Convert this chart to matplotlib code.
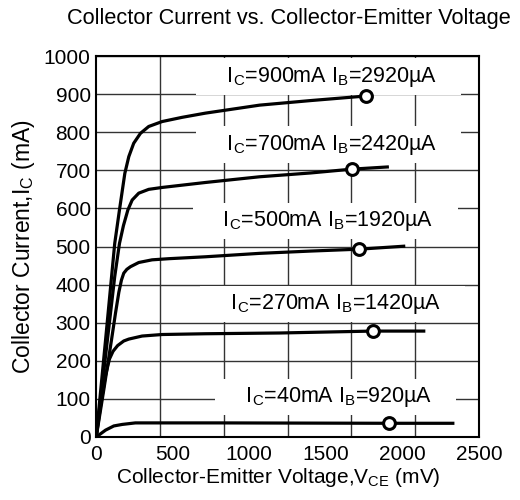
import numpy as np
import matplotlib
matplotlib.use('Agg')
import matplotlib.pyplot as plt

plt.rcParams['font.family'] = ['Liberation Sans', 'DejaVu Sans']
plt.rcParams['mathtext.fontset'] = 'custom'
plt.rcParams['mathtext.rm'] = 'Liberation Sans'

# Curves (V_CE in mV, I_C in mA)
vce900 = [0, 60, 121, 152, 187, 213, 245, 289, 343, 431, 561, 713, 1067, 1400, 1762]
ic900 = [0, 250, 508, 596, 692, 736, 771, 797, 815, 828, 839, 850, 871, 883, 895]

vce700 = [0, 121, 152, 178, 207, 235, 278, 343, 431, 713, 1067, 1400, 1669, 1912]
ic700 = [0, 421, 508, 555, 596, 622, 640, 650, 655, 668, 683, 693, 703, 709]

vce500 = [0, 50, 100, 126, 148, 165, 180, 200, 224, 278, 365, 474, 713, 1067, 1400, 1718, 2019]
ic500 = [0, 125, 255, 325, 380, 412, 430, 440, 447, 458, 465, 468, 473, 482, 488, 493, 501]

vce270 = [0, 30, 60, 87, 110, 140, 180, 213, 300, 431, 713, 1200, 1806, 2150]
ic270 = [0, 85, 160, 205, 225, 240, 252, 257, 265, 269, 271, 273, 278, 278]

vce40 = [0, 17, 61, 115, 170, 256, 800, 1915, 2340]
ic40 = [0, 5, 18, 29, 33, 37, 37, 36, 36]

# Circle markers on each curve
mark_v = [1762, 1669, 1718, 1806, 1915]
mark_i = [895, 703, 493, 278, 36]

# Curve labels
lab_text = ['I$_\\mathrm{C}$=900mA I$_\\mathrm{B}$=2920\u00b5A',
            'I$_\\mathrm{C}$=700mA I$_\\mathrm{B}$=2420\u00b5A',
            'I$_\\mathrm{C}$=500mA I$_\\mathrm{B}$=1920\u00b5A',
            'I$_\\mathrm{C}$=270mA I$_\\mathrm{B}$=1420\u00b5A',
            'I$_\\mathrm{C}$=40mA I$_\\mathrm{B}$=920\u00b5A']
lab_v = [1520, 1520, 1495, 1545, 1565]
lab_i = [945, 767, 567, 349, 105]

xticks = [0, 500, 1000, 1500, 2000, 2500]
yticks = [0, 100, 200, 300, 400, 500, 600, 700, 800, 900, 1000]

fig = plt.figure(figsize=(5.2, 5.0), dpi=100)
ax = fig.add_axes([0.185, 0.126, 0.736, 0.762])

for v, i in [(vce900, ic900), (vce700, ic700), (vce500, ic500), (vce270, ic270), (vce40, ic40)]:
    ax.plot(v, i, color='black', linewidth=2.3, solid_capstyle='butt', solid_joinstyle='round', zorder=4)

ax.plot(mark_v, mark_i, linestyle='none', marker='o', markersize=8.5,
        markerfacecolor='white', markeredgecolor='black', markeredgewidth=2.2, zorder=5)

for t, x, y in zip(lab_text, lab_v, lab_i):
    ax.text(x, y, '    ' + t + '    ', ha='center', va='center', fontsize=15.5, zorder=3,
            bbox=dict(boxstyle='square,pad=0.3', facecolor='white', edgecolor='none'))

ax.set_xlim(0, 2500)
ax.set_ylim(0, 1000)
ax.set_xticks(xticks)
ax.set_yticks(yticks)
ax.set_xticks(np.linspace(0, 2500, 7), minor=True)
ax.tick_params(axis='both', which='both', length=0, labelsize=15)
ax.tick_params(axis='x', pad=6)
ax.tick_params(axis='y', pad=4)
ax.grid(axis='x', which='minor', color='#333333', linewidth=1.0, zorder=1)
ax.grid(axis='y', which='major', color='#333333', linewidth=1.0, zorder=1)
ax.set_axisbelow(True)
for s in ax.spines.values():
    s.set_linewidth(1.5)
    s.set_zorder(6)

ax.set_xlabel('Collector-Emitter Voltage,V$_\\mathrm{CE}$ (mV)', fontsize=15, labelpad=4)
ax.xaxis.set_label_coords(0.475, -0.075)
ax.set_ylabel('Collector Current,I$_\\mathrm{C}$ (mA)', fontsize=16.5, labelpad=5)
fig.text(0.555, 0.963, 'Collector Current vs. Collector-Emitter Voltage', ha='center', va='center', fontsize=15.7)

plt.savefig('out.png', dpi=100)
